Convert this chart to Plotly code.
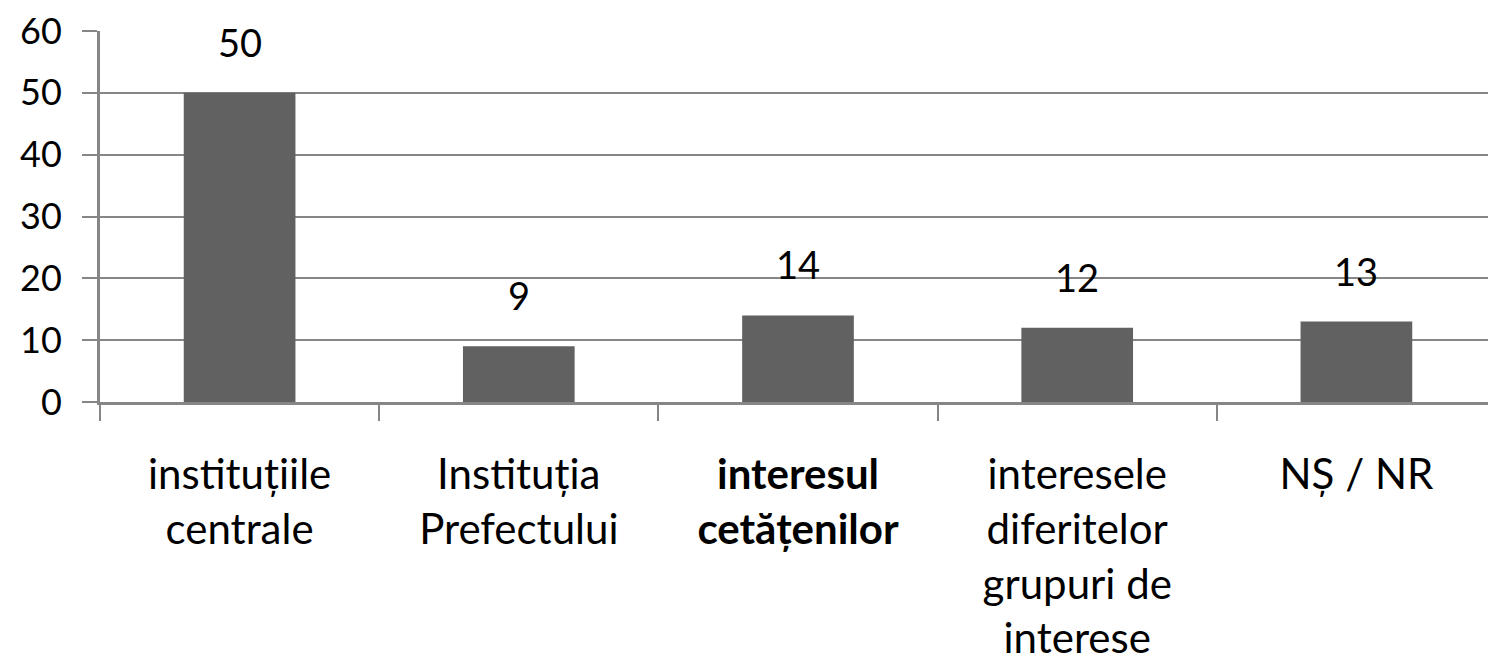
import plotly.graph_objects as go

categories = [
    "instituțiile<br>centrale",
    "Instituția<br>Prefectului",
    "<b>interesul<br>cetățenilor</b>",
    "interesele<br>diferitelor<br>grupuri de<br>interese",
    "NȘ / NR",
]
values = [50, 9, 14, 12, 13]
y_ticks = [0, 10, 20, 30, 40, 50, 60]

FONT = "Lato"
GRID = "#868686"
BAR = "#616161"

fig = go.Figure(
    go.Bar(
        x=categories,
        y=values,
        marker=dict(color=BAR, line=dict(width=0)),
        hoverinfo="skip",
    )
)

for c, v in zip(categories, values):
    fig.add_annotation(
        x=c, y=v, xref="x", yref="y",
        text=str(v), showarrow=False,
        yanchor="bottom", yshift=26,
        font=dict(family=FONT, size=38, color="black"),
    )

# page body has an 8px default margin, so the figure is sized to fit the window
fig.update_layout(
    width=1488, height=658,
    margin=dict(l=92, r=0, t=23, b=264),
    paper_bgcolor="white", plot_bgcolor="white",
    bargap=0.6,
    showlegend=False,
    font=dict(family=FONT, color="black"),
)
fig.update_xaxes(
    automargin=False,
    showline=True, linecolor=GRID, linewidth=3,
    ticks="outside", tickson="boundaries", ticklen=16, tickwidth=2, tickcolor=GRID,
    tickfont=dict(family=FONT, size=42, color="black"),
    ticklabelstandoff=34,
    showgrid=False, fixedrange=True,
)
fig.update_yaxes(
    automargin=False,
    range=[0, 60], tickvals=y_ticks,
    showline=True, linecolor=GRID, linewidth=3,
    ticks="outside", ticklen=15, tickwidth=2, tickcolor=GRID,
    tickfont=dict(family=FONT, size=36, color="black"),
    ticklabelstandoff=13, ticklabeloverflow="allow",
    showgrid=True, gridcolor=GRID, gridwidth=2,
    zeroline=False, fixedrange=True,
)

fig.write_html("out.html", config={"displayModeBar": False})
